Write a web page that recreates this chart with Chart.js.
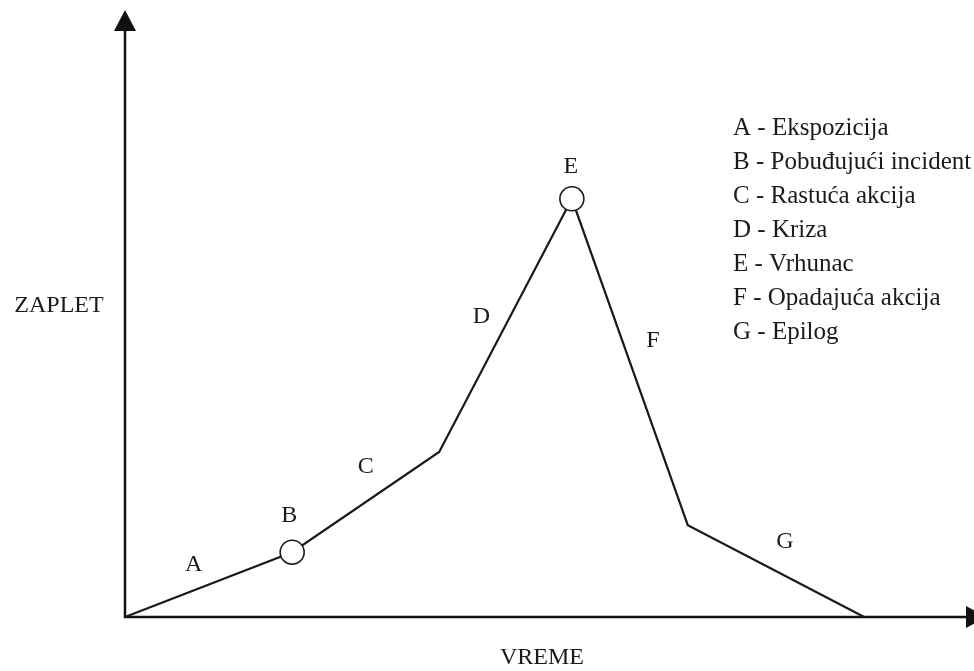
<!DOCTYPE html>
<html>
<head>
<meta charset="utf-8">
<title>Zaplet</title>
<script src="https://cdn.jsdelivr.net/npm/chart.js@4.4.0/dist/chart.umd.min.js"></script>
<style>
  html, body { margin: 0; padding: 0; background: #fff; }
  #wrap { width: 974px; height: 671px; }
</style>
</head>
<body>
<div id="wrap"><canvas id="plot" width="974" height="671"></canvas></div>
<script>
// vreme (x) i zaplet (y), u proizvoljnim jedinicama 0-10
const vreme = [0, 1.99, 3.74, 5.32, 6.70, 8.80];
const zaplet = [0, 1.08, 2.75, 6.97, 1.53, 0];
// kružići samo kod pobuđujućeg incidenta (B) i vrhunca (E)
const istaknuto = [false, true, false, true, false, false];

const faze = ["A", "B", "C", "D", "E", "F", "G"];
const opisi = [
  "Ekspozicija",
  "Pobuđujući incident",
  "Rastuća akcija",
  "Kriza",
  "Vrhunac",
  "Opadajuća akcija",
  "Epilog",
];
const nazivX = "VREME";
const nazivY = "ZAPLET";

const serif = "'Liberation Serif', 'DejaVu Serif', serif";
const ink = "#1a1a1a";

// gde stoji slovo faze: na tački (kružić) ili pored segmenta
// [tip, indeks, pomak x, pomak y]
const raspored = [
  ["seg", 0, -15, -20],
  ["pt", 1, -3, -36],
  ["seg", 1, 0, -35],
  ["seg", 2, -24, -9],
  ["pt", 3, -1, -32],
  ["seg", 3, 23, -21],
  ["seg", 4, 9, -29],
];

const crtez = {
  id: "crtez",
  beforeDatasetsDraw(chart) {
    const { ctx, chartArea } = chart;
    const x0 = chartArea.left;
    const y0 = chartArea.bottom;
    ctx.save();
    ctx.strokeStyle = "#111";
    ctx.fillStyle = "#111";
    ctx.lineWidth = 2.5;
    // y osa sa strelicom
    ctx.beginPath();
    ctx.moveTo(x0, y0 + 1);
    ctx.lineTo(x0, 28);
    ctx.stroke();
    ctx.beginPath();
    ctx.moveTo(x0, 10);
    ctx.lineTo(x0 - 11, 31);
    ctx.lineTo(x0 + 11, 31);
    ctx.closePath();
    ctx.fill();
    // x osa sa strelicom
    ctx.beginPath();
    ctx.moveTo(x0 - 1, y0);
    ctx.lineTo(968, y0);
    ctx.stroke();
    ctx.beginPath();
    ctx.moveTo(987, y0);
    ctx.lineTo(966, y0 - 11);
    ctx.lineTo(966, y0 + 11);
    ctx.closePath();
    ctx.fill();
    ctx.restore();
  },
  afterDraw(chart) {
    const { ctx } = chart;
    const sx = chart.scales.x;
    const sy = chart.scales.y;
    ctx.save();
    ctx.fillStyle = ink;
    ctx.textBaseline = "middle";
    ctx.textAlign = "center";

    // slova faza
    ctx.font = "24px " + serif;
    raspored.forEach(([tip, i, dx, dy], k) => {
      let px, py;
      if (tip === "pt") {
        px = sx.getPixelForValue(vreme[i]);
        py = sy.getPixelForValue(zaplet[i]);
      } else {
        px = (sx.getPixelForValue(vreme[i]) + sx.getPixelForValue(vreme[i + 1])) / 2;
        py = (sy.getPixelForValue(zaplet[i]) + sy.getPixelForValue(zaplet[i + 1])) / 2;
      }
      ctx.fillText(faze[k], px + dx, py + dy);
    });

    // nazivi osa
    ctx.fillText(nazivY, 59, 306);
    ctx.fillText(nazivX, 542, 658);

    // legenda
    ctx.textAlign = "left";
    ctx.font = "25px " + serif;
    faze.forEach((f, i) => {
      ctx.fillText(f + " - " + opisi[i], 733, 128 + i * 34);
    });
    ctx.restore();
  },
};

const ctx = document.getElementById("plot").getContext("2d");
new Chart(ctx, {
  type: "scatter",
  data: {
    datasets: [
      {
        data: vreme.map((x, i) => ({ x, y: zaplet[i] })),
        showLine: true,
        borderColor: ink,
        borderWidth: 2.2,
        tension: 0,
        pointRadius: istaknuto.map((b) => (b ? 12 : 0)),
        pointHoverRadius: istaknuto.map((b) => (b ? 12 : 0)),
        pointBackgroundColor: "#fff",
        pointBorderColor: ink,
        pointBorderWidth: 1.6,
        clip: false,
      },
    ],
  },
  options: {
    responsive: false,
    animation: false,
    events: [],
    layout: { padding: { left: 125, right: 9, top: 17, bottom: 54 } },
    scales: {
      x: { type: "linear", min: 0, max: 10, display: false },
      y: { type: "linear", min: 0, max: 10, display: false },
    },
    plugins: {
      legend: { display: false },
      tooltip: { enabled: false },
    },
  },
  plugins: [crtez],
});
</script>
</body>
</html>
